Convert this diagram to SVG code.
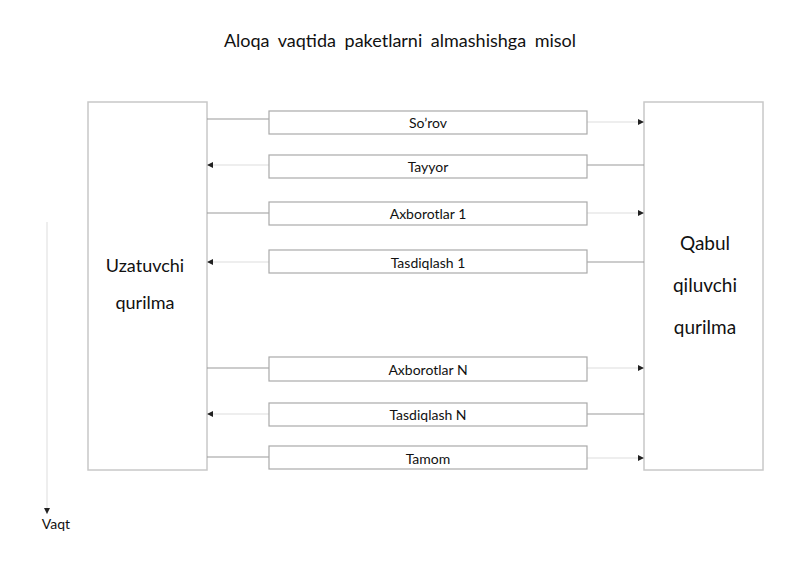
<svg xmlns="http://www.w3.org/2000/svg" width="800" height="565" viewBox="0 0 800 565">
<style>
text{font-family:Lato,"Open Sans",sans-serif;fill:#111;text-anchor:middle}
.dev{fill:#fff;stroke:#c8c8c8;stroke-width:1.5}
.msg{fill:#fff;stroke:#aaa;stroke-width:1.2}
.s{stroke:#999;stroke-width:1;fill:none}
.f{stroke:#ddd;stroke-width:1;fill:none}
</style>
<defs><marker id="a" viewBox="0 0 6 6" refX="6" refY="3" markerWidth="6" markerHeight="6" orient="auto"><path d="M0,0L6,3L0,6z" fill="#222"/></marker></defs>
<rect width="800" height="565" fill="#fff"/>
<text x="400" y="47" font-size="18" word-spacing="4">Aloqa vaqtida paketlarni almashishga misol</text>
<g id="sender"><rect class="dev" x="88" y="102" width="119" height="368"/><text x="145" y="272" font-size="18">Uzatuvchi</text><text x="145" y="309" font-size="18">qurilma</text></g>
<g id="receiver"><rect class="dev" x="644" y="102" width="119" height="368"/><text x="705" y="250" font-size="19">Qabul</text><text x="705" y="292" font-size="19">qiluvchi</text><text x="705" y="334" font-size="19">qurilma</text></g>
<g id="time"><line x1="47" y1="222" x2="47" y2="514" stroke="#ddd" marker-end="url(#a)"/><text x="56" y="529" font-size="14">Vaqt</text></g>
<g id="connectors">
<path class="s" d="M207,119H269"/><path class="f" d="M587,122H644" marker-end="url(#a)"/>
<path class="s" d="M587,165H644"/><path class="f" d="M269,165H207" marker-end="url(#a)"/>
<path class="s" d="M207,213H269"/><path class="f" d="M587,213H644" marker-end="url(#a)"/>
<path class="s" d="M587,262H644"/><path class="f" d="M269,262H207" marker-end="url(#a)"/>
<path class="s" d="M207,368H269"/><path class="f" d="M587,368H644" marker-end="url(#a)"/>
<path class="s" d="M587,414H644"/><path class="f" d="M269,414H207" marker-end="url(#a)"/>
<path class="s" d="M207,457H269"/><path class="f" d="M587,458H644" marker-end="url(#a)"/>
</g>
<g id="m1"><rect class="msg" x="269" y="111" width="318" height="23"/><text x="428" y="128" font-size="14">So’rov</text></g>
<g id="m2"><rect class="msg" x="269" y="155" width="318" height="23"/><text x="428" y="172" font-size="14">Tayyor</text></g>
<g id="m3"><rect class="msg" x="269" y="202" width="318" height="23"/><text x="428" y="219" font-size="14">Axborotlar 1</text></g>
<g id="m4"><rect class="msg" x="269" y="250" width="318" height="23"/><text x="428" y="268" font-size="14">Tasdiqlash 1</text></g>
<g id="m5"><rect class="msg" x="269" y="357" width="318" height="24"/><text x="428" y="375" font-size="14">Axborotlar N</text></g>
<g id="m6"><rect class="msg" x="269" y="403" width="318" height="23"/><text x="428" y="420" font-size="14">Tasdiqlash N</text></g>
<g id="m7"><rect class="msg" x="269" y="446" width="318" height="23"/><text x="428" y="464" font-size="14">Tamom</text></g>
</svg>
